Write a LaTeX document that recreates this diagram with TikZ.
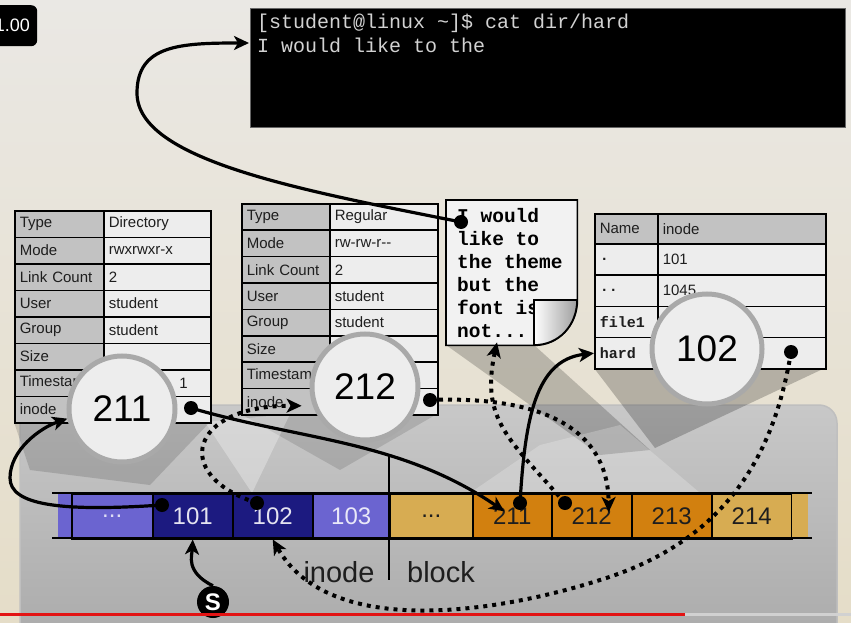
\documentclass[tikz,border=0pt]{standalone}
\usepackage{fontspec}
\setmainfont{Liberation Sans}
\newfontfamily\monofont{Liberation Mono}
\usetikzlibrary{arrows.meta,calc}
\definecolor{bgtop}{HTML}{EAE8E4}
\definecolor{bgbot}{HTML}{E5DDC8}
\definecolor{lblgray}{HTML}{C2C2C2}
\definecolor{valgray}{HTML}{EDEDED}
\definecolor{lblue}{HTML}{6B64D0}
\definecolor{navy}{HTML}{1C1A80}
\definecolor{tanc}{HTML}{D7AC52}
\definecolor{orng}{HTML}{D2800F}
\definecolor{txt}{HTML}{1E1E1E}
\definecolor{termtxt}{HTML}{D2D2D2}
\definecolor{ring}{HTML}{A9A9A9}
\definecolor{pantop}{HTML}{C8C8C8}
\definecolor{panbot}{HTML}{A6A6A6}
\definecolor{ytred}{HTML}{E31414}
\begin{document}
\begin{tikzpicture}[x=1pt,y=-1pt,
  cellbase/.style={draw=black, line width=1.6pt, anchor=north west, inner xsep=5pt, inner ysep=0pt, align=left, text=txt, font=\fontsize{15}{17}\selectfont},
  lblcell/.style={cellbase, fill=lblgray},
  valcell/.style={cellbase, fill=valgray},
  magn/.style={circle, fill=valgray, draw=ring, line width=5pt, minimum size=106pt, inner sep=0pt, text=black, font=\fontsize{37}{40}\selectfont},
  blob/.style={circle, fill=black, minimum size=14pt, inner sep=0pt},
  slot/.style={anchor=north west, minimum height=45pt, inner sep=0pt, draw=black, line width=1.5pt, font=\fontsize{24}{28}\selectfont},
  arr/.style={line width=3.2pt, -{Stealth[length=15pt,width=14pt,inset=4pt]}},
  dotarr/.style={line width=4pt, dash pattern=on 4pt off 5pt, -{Stealth[length=15pt,width=14pt,inset=4pt]}},
  ttext/.style={anchor=base west, inner sep=0pt, text=termtxt, font=\monofont\fontsize{20}{23}\selectfont},
  ntext/.style={anchor=base west, inner sep=0pt, text=black, font=\monofont\bfseries\fontsize{19.5}{23}\selectfont},
  bigword/.style={anchor=base, inner sep=0pt, text=txt, font=\fontsize{29}{32}\selectfont},
]
\useasboundingbox (0,0) rectangle (851,623);
\clip (0,0) rectangle (851,623);
% background
\shade[top color=bgtop, bottom color=bgbot] (0,0) rectangle (851,623);
% panel
\draw[top color=pantop, bottom color=panbot, rounded corners=18pt, draw=black!25, line width=1.5pt] (20,405) rectangle (837,680);
% shadows and light beams
\fill[black, opacity=0.14] (14,422) -- (210,422) -- (150,485) -- (30,470) -- cycle;
\fill[black, opacity=0.12] (241,414) -- (437,414) -- (340,470) -- cycle;
\fill[black, opacity=0.2] (446,345) -- (534,345) -- (650,450) -- (600,455) -- cycle;
\fill[black, opacity=0.22] (594,368) -- (825,368) -- (655,448) -- cycle;
\fill[white, opacity=0.3] (205,422) -- (252,493) -- (290,414) -- cycle;
\fill[white, opacity=0.22] (470,493) -- (540,445) -- (620,425) -- (700,493) -- cycle;
% speed badge
\node[fill=black, rounded corners=6pt, minimum width=50pt, minimum height=41pt, anchor=north west, inner sep=0pt] (badge) at (-13,5) {};
\node[anchor=base east, text=white, font=\fontsize{18}{20}\selectfont, inner sep=0pt] (badgetxt) at (30,32) {1.00};
% terminal
\node[fill=black, draw=black!60, line width=1pt, minimum width=595pt, minimum height=119pt, anchor=north west, inner sep=0pt] (term) at (250,8) {};
\node[ttext] (tl1) at (257,29) {[student@linux \textasciitilde]\$ cat dir/hard};
\node[ttext] (tl2) at (257,53) {I would like to the};
% inode 211 table
\foreach \l/\v [count=\i] in {Type/Directory,Mode/rwxrwxr-x,Link Count/2,User/student,Group/student,Size/{},Timestamp/{},inode/{}}{
  \node[lblcell, text width=79pt, minimum height=26.5pt] (ta\i) at (14,{210+26.5*(\i-1)}) {\l};
  \node[valcell, text width=97pt, minimum height=26.5pt] (tav\i) at (103,{210+26.5*(\i-1)}) {\v};
}
\node[anchor=east, inner sep=0pt, text=txt, font=\fontsize{15}{17}\selectfont] (ts1) at (188,383) {1};
% inode 212 table
\foreach \l/\v [count=\i] in {Type/Regular,Mode/rw-rw-r-{}-,Link Count/2,User/student,Group/student,Size/{},Timestamp/{},inode/{}}{
  \node[lblcell, text width=78pt, minimum height=26.4pt] (tb\i) at (241,{203+26.4*(\i-1)}) {\l};
  \node[valcell, text width=98pt, minimum height=26.4pt] (tbv\i) at (329,{203+26.4*(\i-1)}) {\v};
}
% directory 102 table
\node[lblcell, text width=53pt, minimum height=30pt] (tc0) at (594,213) {Name};
\node[lblcell, text width=158pt, minimum height=30pt] (tcv0) at (657,213) {inode};
\foreach \l/\v [count=\i] in {{.}/101,{..}/1045,file1/{},hard/{}}{
  \node[valcell, text width=53pt, minimum height=31.25pt, font=\monofont\bfseries\fontsize{15}{17}\selectfont] (tc\i) at (594,{243+31.25*(\i-1)}) {\l};
  \node[valcell, text width=158pt, minimum height=31.25pt] (tcv\i) at (657,{243+31.25*(\i-1)}) {\v};
}
% file content note
\node[minimum width=131pt, minimum height=145pt, anchor=north west, inner sep=0pt] (note) at (446,200) {};
\draw[fill=valgray!70!white, line width=1.6pt] (note.north west) -- (note.north east) -- ($(note.north east)+(0,100)$) .. controls +(0,25) and +(25,0) .. ($(note.south west)+(88,0)$) -- (note.south west) -- cycle;
\node[ntext] (nl1) at (457,222) {I would};
\node[ntext] (nl2) at (457,245) {like to};
\node[ntext] (nl3) at (457,268) {the theme};
\node[ntext] (nl4) at (457,291) {but the};
\node[ntext] (nl5) at (457,314) {font is};
\node[ntext] (nl6) at (457,337) {not...};
\path[left color=white, right color=black!38] (534,300) -- (577,300) .. controls (577,325) and (559,345) .. (534,345) -- cycle;
\draw[line width=1.6pt] (534,345) -- (534,300) -- (577,300) .. controls (577,325) and (559,345) .. (534,345);
% magnifier circles
\node[magn] (m211) at (122,409) {211};
\node[magn] (m212) at (365,387) {212};
\node[magn, minimum size=110pt] (m102) at (707,349) {102};
% inode / block strip
\node[slot, draw=none, fill=lblue, minimum width=14pt] (s0) at (57,493) {};
\node[slot, fill=lblue, minimum width=81pt, text=white!78!lblue] (s1) at (71,493) {...};
\node[slot, fill=navy, minimum width=80pt, text=white!88!navy] (c101) at (152,493) {101};
\node[slot, fill=navy, minimum width=80pt, text=white!88!navy] (c102) at (232,493) {102};
\node[slot, fill=lblue, minimum width=77pt, text=white!85!lblue] (c103) at (312,493) {103};
\node[slot, fill=tanc, minimum width=83pt, text=txt] (s5) at (389,493) {...};
\node[slot, fill=orng, minimum width=79pt, text=txt] (c211) at (472,493) {211};
\node[slot, fill=orng, minimum width=80pt, text=txt] (c212) at (551,493) {212};
\node[slot, fill=orng, minimum width=80pt, text=txt] (c213) at (631,493) {213};
\node[slot, fill=tanc, minimum width=80pt, text=txt] (c214) at (711,493) {214};
\node[slot, draw=none, fill=tanc, minimum width=16pt] (s10) at (791,493) {};
\draw[line width=2.2pt] (52,493) -- (812,493);
\draw[line width=2.2pt] (52,538) -- (812,538);
\draw[line width=2.6pt] (389,455) -- (389,580);
\node[bigword] (winode) at (339,582) {inode};
\node[bigword] (wblock) at (441,582) {block};
% S marker
\node[circle, fill=black, minimum size=32pt, inner sep=0pt, text=white, font=\bfseries\fontsize{24}{26}\selectfont] (S) at (213,602) {S};
% start dots
\node[blob] (nd) at (461,222) {};
\node[blob] (d211) at (191,408) {};
\node[blob] (d212) at (430,400) {};
\node[blob] (dhard) at (791,352) {};
\node[blob] (d101) at (162,505) {};
\node[blob] (d102) at (257,503) {};
\node[blob] (dc211) at (520,503) {};
\node[blob] (dc212) at (565,503) {};
% connectors
\draw[arr] (nd.center) .. controls (300,190) and (137,160) .. (137,93) .. controls (137,45) and (180,43) .. ($(term.north west)+(-1,35)$);
\draw[arr] (d211.center) .. controls (300,440) and (400,440) .. ($(c211.center)+(-8,-5)$);
\draw[arr] (d101.center) .. controls (60,512) and (10,505) .. (10,478) .. controls (10,450) and (40,428) .. (m211.190);
\draw[arr] (dc211.center) .. controls (525,420) and (535,360) .. (tc4.west);
\draw[dotarr] (d212.center) .. controls (560,395) and (608,440) .. ($(c212.north)+(17,19)$);
\draw[dotarr] (dc212.center) .. controls (510,440) and (480,420) .. ($(note.south west)+(51,-3)$);
\draw[dotarr] (d102.center) .. controls (170,475) and (190,405) .. ($(tb8.east)+(-29,4)$);
\draw[dotarr] (dhard.center) .. controls (775,450) and (730,540) .. (600,580) .. controls (500,612) and (330,640) .. (c102.south);
\draw[arr] (S.north) .. controls (185,572) and (192,555) .. (c101.south);
% progress bar
\draw[line width=3pt, ytred] (0,614) -- (685,614);
\draw[line width=3pt, black!18] (685,614) -- (851,614);
\end{tikzpicture}
\end{document}
